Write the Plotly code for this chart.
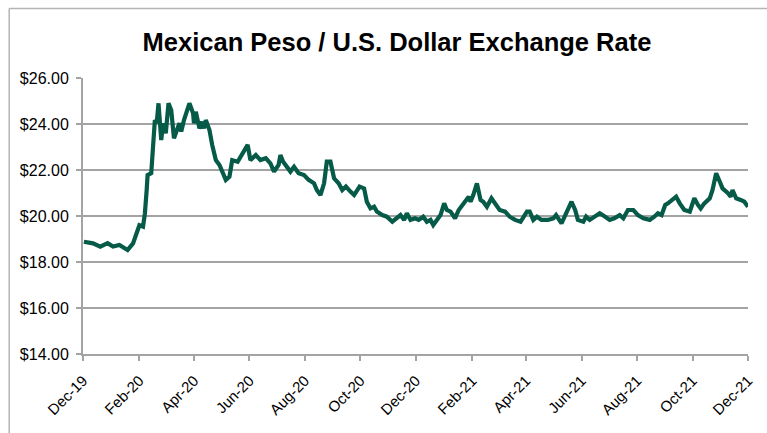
import plotly.graph_objects as go

dates = [
    "2019-12-02", "2019-12-12", "2019-12-20", "2019-12-28", "2020-01-03", "2020-01-10",
    "2020-01-19", "2020-01-25", "2020-01-29", "2020-02-01", "2020-02-05", "2020-02-07",
    "2020-02-09", "2020-02-10", "2020-02-14", "2020-02-16", "2020-02-18", "2020-02-20",
    "2020-02-22", "2020-02-25", "2020-02-27", "2020-03-01", "2020-03-04", "2020-03-07",
    "2020-03-10", "2020-03-16", "2020-03-18", "2020-03-21", "2020-03-27", "2020-03-31",
    "2020-04-01", "2020-04-03", "2020-04-07", "2020-04-10", "2020-04-12", "2020-04-14",
    "2020-04-18", "2020-04-21", "2020-04-25", "2020-04-29", "2020-05-02", "2020-05-06",
    "2020-05-10", "2020-05-13", "2020-05-19", "2020-05-23", "2020-05-26", "2020-05-30",
    "2020-06-02", "2020-06-08", "2020-06-13", "2020-06-19", "2020-06-24", "2020-06-28",
    "2020-07-03", "2020-07-05", "2020-07-08", "2020-07-16", "2020-07-20", "2020-07-25",
    "2020-07-31", "2020-08-05", "2020-08-11", "2020-08-14", "2020-08-18", "2020-08-22",
    "2020-08-25", "2020-08-29", "2020-09-02", "2020-09-07", "2020-09-11", "2020-09-15",
    "2020-09-20", "2020-09-24", "2020-09-30", "2020-10-05", "2020-10-08", "2020-10-12",
    "2020-10-16", "2020-10-19", "2020-10-25", "2020-10-30", "2020-11-05", "2020-11-10",
    "2020-11-14", "2020-11-18", "2020-11-21", "2020-11-25", "2020-11-30", "2020-12-04",
    "2020-12-09", "2020-12-13", "2020-12-17", "2020-12-20", "2020-12-24", "2020-12-28",
    "2021-01-01", "2021-01-04", "2021-01-08", "2021-01-13", "2021-01-17", "2021-01-20",
    "2021-01-24", "2021-01-28", "2021-01-30", "2021-02-02", "2021-02-06", "2021-02-10",
    "2021-02-13", "2021-02-17", "2021-02-22", "2021-02-26", "2021-03-03", "2021-03-09",
    "2021-03-14", "2021-03-20", "2021-03-26", "2021-04-02", "2021-04-05", "2021-04-09",
    "2021-04-13", "2021-04-18", "2021-04-25", "2021-05-01", "2021-05-04", "2021-05-10",
    "2021-05-15", "2021-05-21", "2021-05-25", "2021-05-28", "2021-06-03", "2021-06-06",
    "2021-06-10", "2021-06-16", "2021-06-21", "2021-06-27", "2021-07-02", "2021-07-07",
    "2021-07-13", "2021-07-17", "2021-07-22", "2021-07-28", "2021-08-02", "2021-08-08",
    "2021-08-15", "2021-08-20", "2021-08-24", "2021-08-28", "2021-09-01", "2021-09-04",
    "2021-09-08", "2021-09-11", "2021-09-13", "2021-09-17", "2021-09-22", "2021-09-28",
    "2021-10-01", "2021-10-03", "2021-10-07", "2021-10-10", "2021-10-14", "2021-10-20",
    "2021-10-23", "2021-10-27", "2021-10-31", "2021-11-03", "2021-11-09", "2021-11-12",
    "2021-11-14", "2021-11-18", "2021-11-23", "2021-11-27", "2021-12-01",
]

rates = [
    18.88, 18.81, 18.67, 18.82, 18.67, 18.74,
    18.52, 18.81, 19.26, 19.60, 19.54, 20.10,
    21.13, 21.78, 21.86, 23.30, 24.17, 24.03,
    24.90, 23.30, 24.03, 23.60, 24.90, 24.60,
    23.38, 24.03, 23.67, 24.17, 24.90, 24.47,
    24.03, 24.53, 23.81, 24.10, 23.81, 24.17,
    23.74, 23.09, 22.43, 22.22, 21.93, 21.57,
    21.71, 22.43, 22.36, 22.65, 22.80, 23.09,
    22.43, 22.65, 22.43, 22.51, 22.29, 21.93,
    22.22, 22.65, 22.36, 21.93, 22.14, 21.86,
    21.78, 21.57, 21.42, 21.13, 20.91, 21.42,
    22.36, 22.36, 21.64, 21.42, 21.13, 21.28,
    21.06, 20.91, 21.28, 21.20, 20.62, 20.33,
    20.40, 20.19, 20.04, 19.97, 19.75, 19.90,
    20.04, 19.83, 20.12, 19.83, 19.90, 19.83,
    19.97, 19.75, 19.83, 19.61, 19.83, 20.04,
    20.55, 20.26, 20.19, 19.90, 20.26, 20.40,
    20.62, 20.84, 20.62, 20.91, 21.42, 20.70,
    20.62, 20.40, 20.77, 20.55, 20.26, 20.19,
    19.97, 19.83, 19.75, 20.19, 20.19, 19.83,
    19.97, 19.83, 19.83, 19.90, 20.04, 19.68,
    20.12, 20.62, 20.26, 19.83, 19.75, 19.97,
    19.83, 19.97, 20.12, 19.97, 19.83, 19.90,
    20.04, 19.90, 20.26, 20.26, 20.04, 19.90,
    19.83, 19.97, 20.12, 20.04, 20.48, 20.55,
    20.70, 20.77, 20.84, 20.55, 20.26, 20.19,
    20.48, 20.77, 20.48, 20.33, 20.55, 20.77,
    21.13, 21.86, 21.49, 21.20, 20.99, 20.84,
    21.13, 20.77, 20.70, 20.62, 20.40,
]

title_text = "Mexican Peso / U.S. Dollar Exchange Rate"
line_color = "#065a48"
grid_color = "#a3a3a3"

# layout geometry (pixels)
W, H = 767, 433
L, R, T, B = 83, 17, 78, 79
pw, ph = W - L - R, H - T - B

fig = go.Figure()
fig.add_trace(go.Scatter(
    x=dates, y=rates, mode="lines",
    line=dict(color=line_color, width=4.2),
    hoverinfo="x+y", showlegend=False,
))

# outer chart frame (top and left edges visible)
def px_x(x):
    return (x - L) / pw

def px_y(y):
    return (H - B - y) / ph

frame = dict(color="#b4b4b4", width=1.5)
fig.add_shape(type="line", xref="paper", yref="paper",
              x0=px_x(9), x1=px_x(W + 5), y0=px_y(8.5), y1=px_y(8.5), line=frame)
fig.add_shape(type="line", xref="paper", yref="paper",
              x0=px_x(9), x1=px_x(9), y0=px_y(8.5), y1=px_y(H + 5), line=frame)

fig.update_layout(
    width=W, height=H,
    margin=dict(l=L, r=R, t=T, b=B),
    paper_bgcolor="white", plot_bgcolor="white",
    title=dict(
        text="<b>" + title_text + "</b>",
        xref="container", yref="container",
        x=397 / W, xanchor="center",
        y=1 - 42 / H, yanchor="middle",
        font=dict(family="Liberation Sans, Arial, sans-serif",
                  size=25.5, color="black"),
    ),
    font=dict(family="Liberation Sans, Arial, sans-serif", color="black"),
)

fig.update_xaxes(
    type="date",
    range=["2019-12-01", "2021-12-01"],
    tick0="2019-12-01", dtick="M2", tickformat="%b-%y",
    tickangle=-45,
    ticks="outside", ticklen=5, tickwidth=1.5, tickcolor=grid_color,
    showline=True, linecolor=grid_color, linewidth=2,
    showgrid=False, zeroline=False,
    tickfont=dict(size=15, color="black"),
    ticklabelstandoff=5,
)

fig.update_yaxes(
    range=[14, 26], dtick=2, tick0=14,
    tickprefix="$", tickformat=".2f",
    ticks="outside", ticklen=5, tickwidth=1.5, tickcolor=grid_color,
    showline=True, linecolor=grid_color, linewidth=2,
    showgrid=True, gridcolor=grid_color, gridwidth=2,
    zeroline=False,
    tickfont=dict(size=16, color="black"),
    ticklabelstandoff=4,
)

fig.write_html("out.html")
